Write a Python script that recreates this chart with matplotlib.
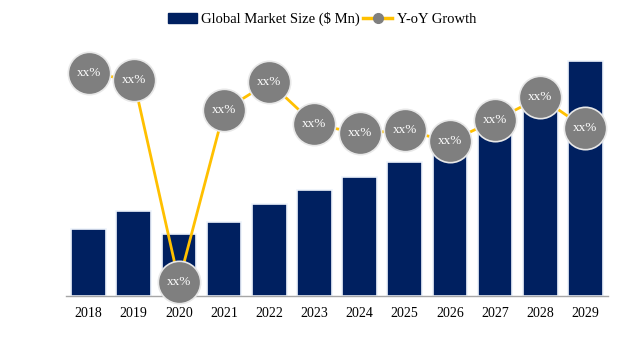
import matplotlib
matplotlib.use("Agg")
import matplotlib.pyplot as plt
from matplotlib.patches import Patch
from matplotlib.lines import Line2D

plt.rcParams['font.family'] = ['Liberation Serif', 'DejaVu Serif']

years = ["2018", "2019", "2020", "2021", "2022", "2023",
         "2024", "2025", "2026", "2027", "2028", "2029"]
market_size = [67, 85, 62, 74, 92, 106, 119, 134, 148, 163, 186, 235]
yoy_growth = [22.2, 21.5, 1.4, 18.5, 21.3, 17.1, 16.2, 16.5, 15.4, 17.5, 19.8, 16.7]
point_labels = ["xx%"] * len(years)

navy = "#002060"
gold = "#FFC000"
grey = "#7F7F7F"

fig = plt.figure(figsize=(6.44, 3.42), dpi=100)
ax = fig.add_axes([66 / 644, (342 - 296) / 342, (608 - 66) / 644, 251 / 342])

x = list(range(len(years)))
ax.bar(x, market_size, width=0.77, color=navy, edgecolor="#eef3fb", linewidth=1.2, zorder=2)
ax.set_xlim(-0.5, 11.5)
ax.set_ylim(0, 251)
ax.set_xticks(x)
ax.set_xticklabels(years, fontsize=10)
ax.tick_params(axis="x", length=0, pad=8)
ax.set_yticks([])
for side in ("left", "right", "top"):
    ax.spines[side].set_visible(False)
ax.spines["bottom"].set_color("#A6A6A6")
ax.spines["bottom"].set_linewidth(1.0)

ax2 = ax.twinx()
ax2.set_ylim(0, 25)
ax2.set_yticks([])
for side in ("left", "right", "top", "bottom"):
    ax2.spines[side].set_visible(False)
ax2.plot(x, yoy_growth, color=gold, linewidth=2.0, zorder=2)
ax2.scatter(x, yoy_growth, s=30.5 ** 2, color=grey, edgecolor="#E8E8E8",
            linewidth=1.2, zorder=3, clip_on=False)
for xi, yi, lab in zip(x, yoy_growth, point_labels):
    ax2.text(xi, yi, lab, ha="center", va="center", color="white",
             fontsize=9.5, zorder=4, clip_on=False)

handles = [
    Patch(facecolor=navy, edgecolor=navy),
    Line2D([0], [0], color=gold, linewidth=2.5, marker="o",
           markersize=7, markerfacecolor=grey, markeredgecolor=grey),
]
fig.legend(handles, ["Global Market Size ($ Mn)", "Y-oY Growth"],
           loc="center", bbox_to_anchor=(0.5, 1 - 19 / 342), ncol=2,
           frameon=False, fontsize=10.5, handlelength=2.0,
           handletextpad=0.3, columnspacing=0.2)

fig.savefig("out.png", dpi=100)
